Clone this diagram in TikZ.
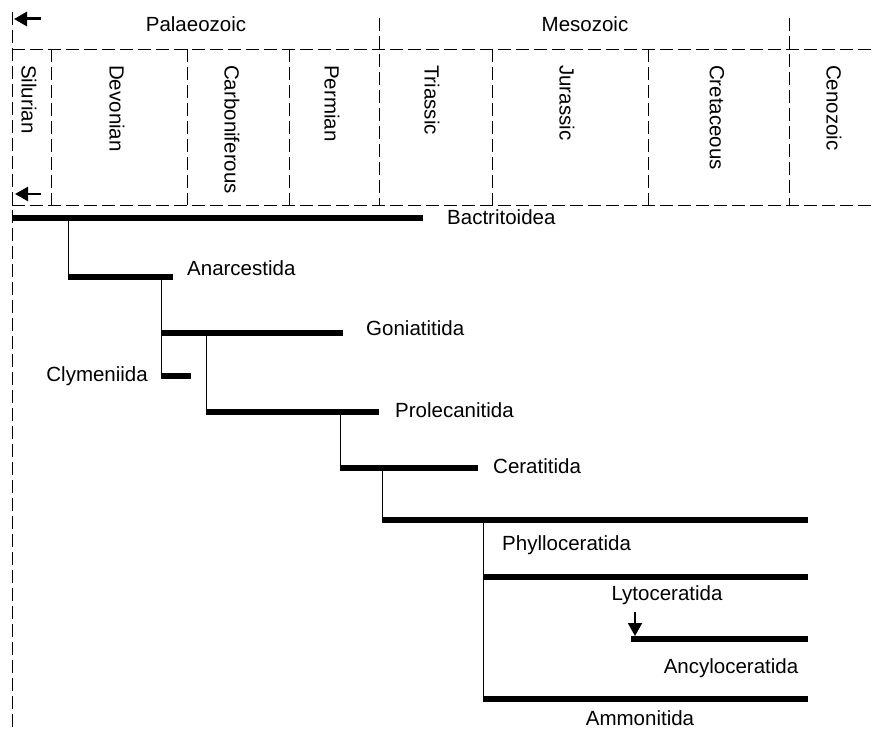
\documentclass[tikz,border=0pt]{standalone}
\usepackage{fontspec}
\setmainfont{Liberation Sans}
\usetikzlibrary{arrows.meta}
\begin{document}
\begin{tikzpicture}[x=1pt,y=-1pt,
  every node/.style={font=\fontsize{20.5}{24}\selectfont, inner sep=0pt},
  grid/.style={dash pattern=on 13pt off 5pt, line width=0.9pt},
  bar/.style={line width=6.5pt},
  stem/.style={line width=0.9pt},
  pointer/.style={line width=2.4pt, -{Triangle[length=13pt,width=14pt]}},
  period/.style={rotate=-90, anchor=west}]
\useasboundingbox (0,0) rectangle (873,730);

% time scale
\draw[grid] (12,12) -- (12,730);
\draw[grid] (12,49) -- (873,49);
\draw[grid] (12,205) -- (873,205);
\draw[grid] (379,18) -- (379,205);
\draw[grid] (789,18) -- (789,205);
\foreach \x in {51,187,289,492,648}
  \draw[grid] (\x,49) -- (\x,205);

\coordinate (up0) at (41,19);
\coordinate (up1) at (14,19);
\coordinate (lo0) at (41,194);
\coordinate (lo1) at (15,194);
\draw[pointer, line width=3pt] (up0) -- (up1);
\draw[pointer] (lo0) -- (lo1);

\node (palaeo) at (196,24) {Palaeozoic};
\node (meso) at (585,24) {Mesozoic};

\node[period] (silurian) at (29,65) {Silurian};
\node[period] (devonian) at (117,65) {Devonian};
\node[period] (carbon) at (232,65) {Carboniferous};
\node[period] (permian) at (332,65) {Permian};
\node[period] (triassic) at (432,65) {Triassic};
\node[period] (jurassic) at (567,65) {Jurassic};
\node[period] (cretac) at (717,65) {Cretaceous};
\node[period] (cenozoic) at (834,65) {Cenozoic};

% ranges
\coordinate (bac0) at (12,218);   \coordinate (bac1) at (423,218);
\coordinate (ana0) at (68,277);   \coordinate (ana1) at (173,277);
\coordinate (gon0) at (161,333);  \coordinate (gon1) at (343,333);
\coordinate (cly0) at (161,376);  \coordinate (cly1) at (191,376);
\coordinate (pro0) at (206,412);  \coordinate (pro1) at (379,412);
\coordinate (cer0) at (340,468);  \coordinate (cer1) at (478,468);
\coordinate (phy0) at (382,520);  \coordinate (phy1) at (808,520);
\coordinate (lyt0) at (483,577);  \coordinate (lyt1) at (808,577);
\coordinate (anc0) at (631,639);  \coordinate (anc1) at (808,639);
\coordinate (amm0) at (483,699);  \coordinate (amm1) at (808,699);

\foreach \t in {bac,ana,gon,cly,pro,cer,phy,lyt,anc,amm}
  \draw[bar] (\t0) -- (\t1);

\draw[stem] (ana0 |- bac0) -- (ana0);
\draw[stem] (cly0 |- ana0) -- (cly0);
\draw[stem] (pro0 |- gon0) -- (pro0);
\draw[stem] (cer0 |- pro0) -- (cer0);
\draw[stem] (phy0 |- cer0) -- (phy0);
\draw[stem] (amm0 |- phy0) -- (amm0);

\node[anchor=west] (bactritoidea) at (447,217) {Bactritoidea};
\node[anchor=west] (anarcestida) at (187,268) {Anarcestida};
\node[anchor=west] (goniatitida) at (366,328) {Goniatitida};
\node[anchor=east] (clymeniida) at (148,376) {Clymeniida};
\node[anchor=west] (prolecanitida) at (395,410) {Prolecanitida};
\node[anchor=west] (ceratitida) at (493,466) {Ceratitida};
\node[anchor=west] (phylloceratida) at (502,545) {Phylloceratida};
\node (lytoceratida) at (667,595) {Lytoceratida};
\node (ancyloceratida) at (731,668) {Ancyloceratida};
\node (ammonitida) at (640,718) {Ammonitida};

\coordinate (lytarrow) at (635,612);
\draw[pointer, line width=2pt] (lytarrow) -- (lytarrow |- anc0) [shorten >=3pt];
\end{tikzpicture}
\end{document}
